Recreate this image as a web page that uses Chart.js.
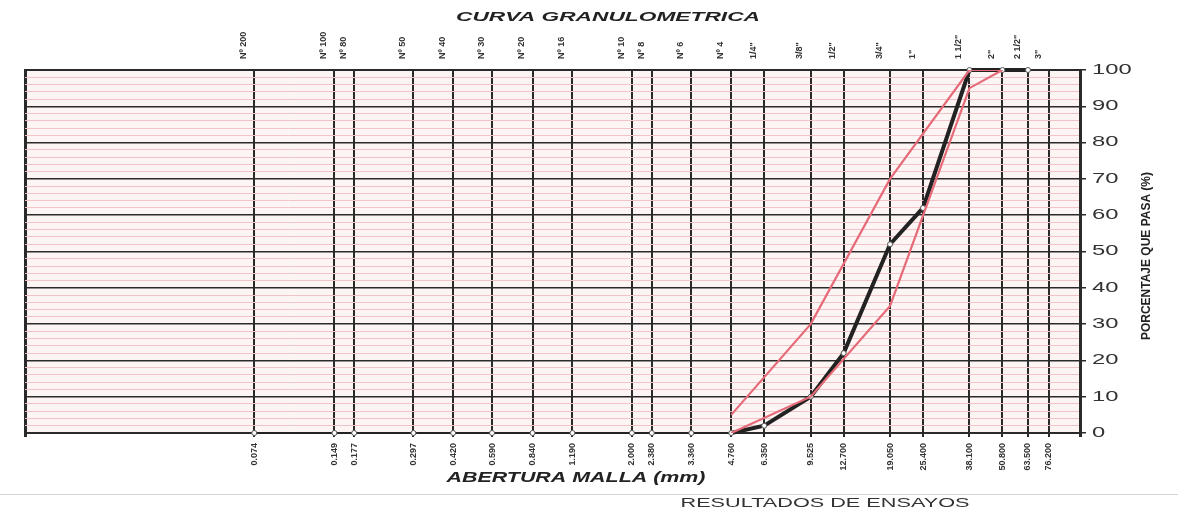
<!DOCTYPE html>
<html><head><meta charset="utf-8">
<script src="https://cdn.jsdelivr.net/npm/chart.js@4.4.1/dist/chart.umd.min.js"></script>
<style>html,body{margin:0;padding:0;background:#fff;}#wrap{width:1178px;height:514px;}</style>
</head><body><div id="wrap"><canvas id="c" width="1178" height="514"></canvas></div>
<script>
// ---- data ----
const sieveNames = ['Nº 200','Nº 100','Nº 80','Nº 50','Nº 40','Nº 30','Nº 20','Nº 16','Nº 10','Nº 8','Nº 6','Nº 4','1/4"','3/8"','1/2"','3/4"','1"','1 1/2"','2"','2 1/2"','3"'];
const sieveSizes = [0.074,0.149,0.177,0.297,0.420,0.590,0.840,1.190,2.000,2.380,3.360,4.760,6.350,9.525,12.700,19.050,25.400,38.100,50.800,63.500,76.200];
const sieveLabels = ['0.074','0.149','0.177','0.297','0.420','0.590','0.840','1.190','2.000','2.380','3.360','4.760','6.350','9.525','12.700','19.050','25.400','38.100','50.800','63.500','76.200'];
const samplePassing = [0,0,0,0,0,0,0,0,0,0,0,0,2,10,22,52,62,100,100,100,null];
const limitSizes = [4.760,9.525,19.050,38.100,50.800];
const upperLimit = [5,30,70,100,100];
const lowerLimit = [0,10,35,95,100];
const yTickValues = [0,2,4,6,8,10,12,14,16,18,20,22,24,26,28,30,32,34,36,38,40,42,44,46,48,50,52,54,56,58,60,62,64,66,68,70,72,74,76,78,80,82,84,86,88,90,92,94,96,98,100];
const yLabelValues = [0,10,20,30,40,50,60,70,80,90,100];
const chartTitle = 'CURVA GRANULOMETRICA';
const xTitle = 'ABERTURA MALLA (mm)';
const yTitle = 'PORCENTAJE QUE PASA (%)';
const footer = 'RESULTADOS DE ENSAYOS';
const X_MIN = 0.01, X_MAX = 100;

// ---- styling ----
const dark = '#2a2a2a', minorPink = '#efc3c7', curvePink = '#e66b78';
const tickFont = {family:"'Liberation Sans Narrow','Liberation Sans',sans-serif", size:9, weight:'bold'};
const toPts = (xs, ys) => xs.map((x,i)=>({x:x, y:ys[i]})).filter(p => p.y !== null);
const xTicks = () => [X_MIN, ...sieveSizes, X_MAX].map(v => ({value:v}));

function drawStretched(ctx, text, x, y, font, opt) {
  ctx.save();
  ctx.font = font;
  const w = ctx.measureText(text).width;
  const sx = opt.width ? opt.width / w : (opt.sx || 1);
  ctx.translate(x, y);
  if (opt.rot) ctx.rotate(opt.rot);
  ctx.scale(sx, 1);
  ctx.textAlign = opt.align || 'center';
  ctx.textBaseline = 'middle';
  ctx.fillStyle = opt.color || '#222';
  ctx.fillText(text, 0, 0);
  ctx.restore();
}

const bgPlugin = {
  id: 'bg',
  beforeDraw(chart) {
    const {ctx, chartArea: a} = chart;
    ctx.save();
    ctx.fillStyle = '#fff';
    ctx.fillRect(0, 0, chart.width, chart.height);
    ctx.fillStyle = '#fdf4f4';
    ctx.fillRect(a.left, a.top, a.right - a.left, a.bottom - a.top);
    ctx.restore();
  }
};

const textPlugin = {
  id: 'texts',
  afterDraw(chart) {
    const {ctx} = chart;
    const ys = chart.scales.y;
    yLabelValues.forEach(v => {
      drawStretched(ctx, String(v), 1092, ys.getPixelForValue(v), "14px 'Liberation Sans',sans-serif", {sx:1.7, align:'left', color:'#333'});
    });
    drawStretched(ctx, chartTitle, 608, 17, "italic bold 13px 'Liberation Sans',sans-serif", {width:304, color:'#222'});
    drawStretched(ctx, xTitle, 576, 478, "italic bold 14px 'Liberation Sans',sans-serif", {width:259, color:'#222'});
    drawStretched(ctx, yTitle, 1146, 256, "bold 13px 'Liberation Sans Narrow','Liberation Sans',sans-serif", {width:168, rot:-Math.PI/2, color:'#222'});
    drawStretched(ctx, footer, 825, 504, "12px 'Liberation Sans',sans-serif", {width:289, color:'#333'});
    ctx.save();
    ctx.strokeStyle = '#d4d4d4';
    ctx.lineWidth = 1;
    ctx.beginPath(); ctx.moveTo(0, 494.5); ctx.lineTo(chart.width, 494.5); ctx.stroke();
    ctx.restore();
  }
};

new Chart(document.getElementById('c'), {
  type: 'line',
  data: {
    datasets: [
      {label:'Límite superior', data: toPts(limitSizes, upperLimit), borderColor: curvePink, borderWidth: 2.2, pointRadius: 0, tension: 0},
      {label:'Límite inferior', data: toPts(limitSizes, lowerLimit), borderColor: curvePink, borderWidth: 2.2, pointRadius: 0, tension: 0},
      {label:'Muestra', data: toPts(sieveSizes, samplePassing), borderColor: '#222', borderWidth: 4, pointRadius: 2.5,
       pointBackgroundColor: '#fff', pointBorderColor: '#555', pointBorderWidth: 1, tension: 0, clip: false,
       segment: {borderWidth: c => (c.p0.parsed.y === 0 && c.p1.parsed.y === 0) ? 1.5 : 4}}
    ]
  },
  options: {
    responsive: false,
    animation: false,
    layout: {padding: {left: 25, top: 0, right: 0, bottom: 0}},
    plugins: {legend: {display: false}, tooltip: {enabled: false}, title: {display: false}},
    scales: {
      x: {
        type: 'logarithmic', position: 'bottom', min: X_MIN, max: X_MAX,
        afterBuildTicks: s => { s.ticks = xTicks(); },
        afterFit: s => { s.height = 81; },
        grid: {color: dark, lineWidth: c => (c.index === 0 || c.index === sieveSizes.length + 1) ? 3 : 2, tickLength: 4, tickColor: dark},
        border: {display: true, color: dark, width: 2},
        ticks: {autoSkip: false, minRotation: 90, maxRotation: 90, padding: 6, font: tickFont, color: '#333',
          callback: (v, i) => (i > 0 && i <= sieveSizes.length) ? sieveLabels[i - 1] : ''}
      },
      x2: {
        type: 'logarithmic', position: 'top', min: X_MIN, max: X_MAX,
        afterBuildTicks: s => { s.ticks = xTicks(); },
        afterFit: s => { s.height = 70; },
        grid: {display: false},
        border: {display: true, color: dark, width: 2},
        ticks: {autoSkip: false, minRotation: 90, maxRotation: 90, padding: 3, font: tickFont, color: '#333',
          callback: (v, i) => (i > 0 && i <= sieveNames.length) ? sieveNames[i - 1] : ''}
      },
      y: {
        type: 'linear', position: 'right', min: 0, max: 100,
        afterBuildTicks: s => { s.ticks = yTickValues.map(v => ({value: v})); },
        afterFit: s => { s.width = 98; },
        grid: {
          color: c => (c.tick && c.tick.value % 10 === 0) ? dark : minorPink,
          lineWidth: c => (c.tick && c.tick.value % 10 === 0) ? 1.5 : 1,
          tickLength: 6,
          tickColor: c => (c.tick && c.tick.value % 10 === 0) ? dark : 'rgba(0,0,0,0)'
        },
        border: {display: true, color: dark, width: 3},
        ticks: {display: false}
      }
    }
  },
  plugins: [bgPlugin, textPlugin]
});
</script></body></html>
